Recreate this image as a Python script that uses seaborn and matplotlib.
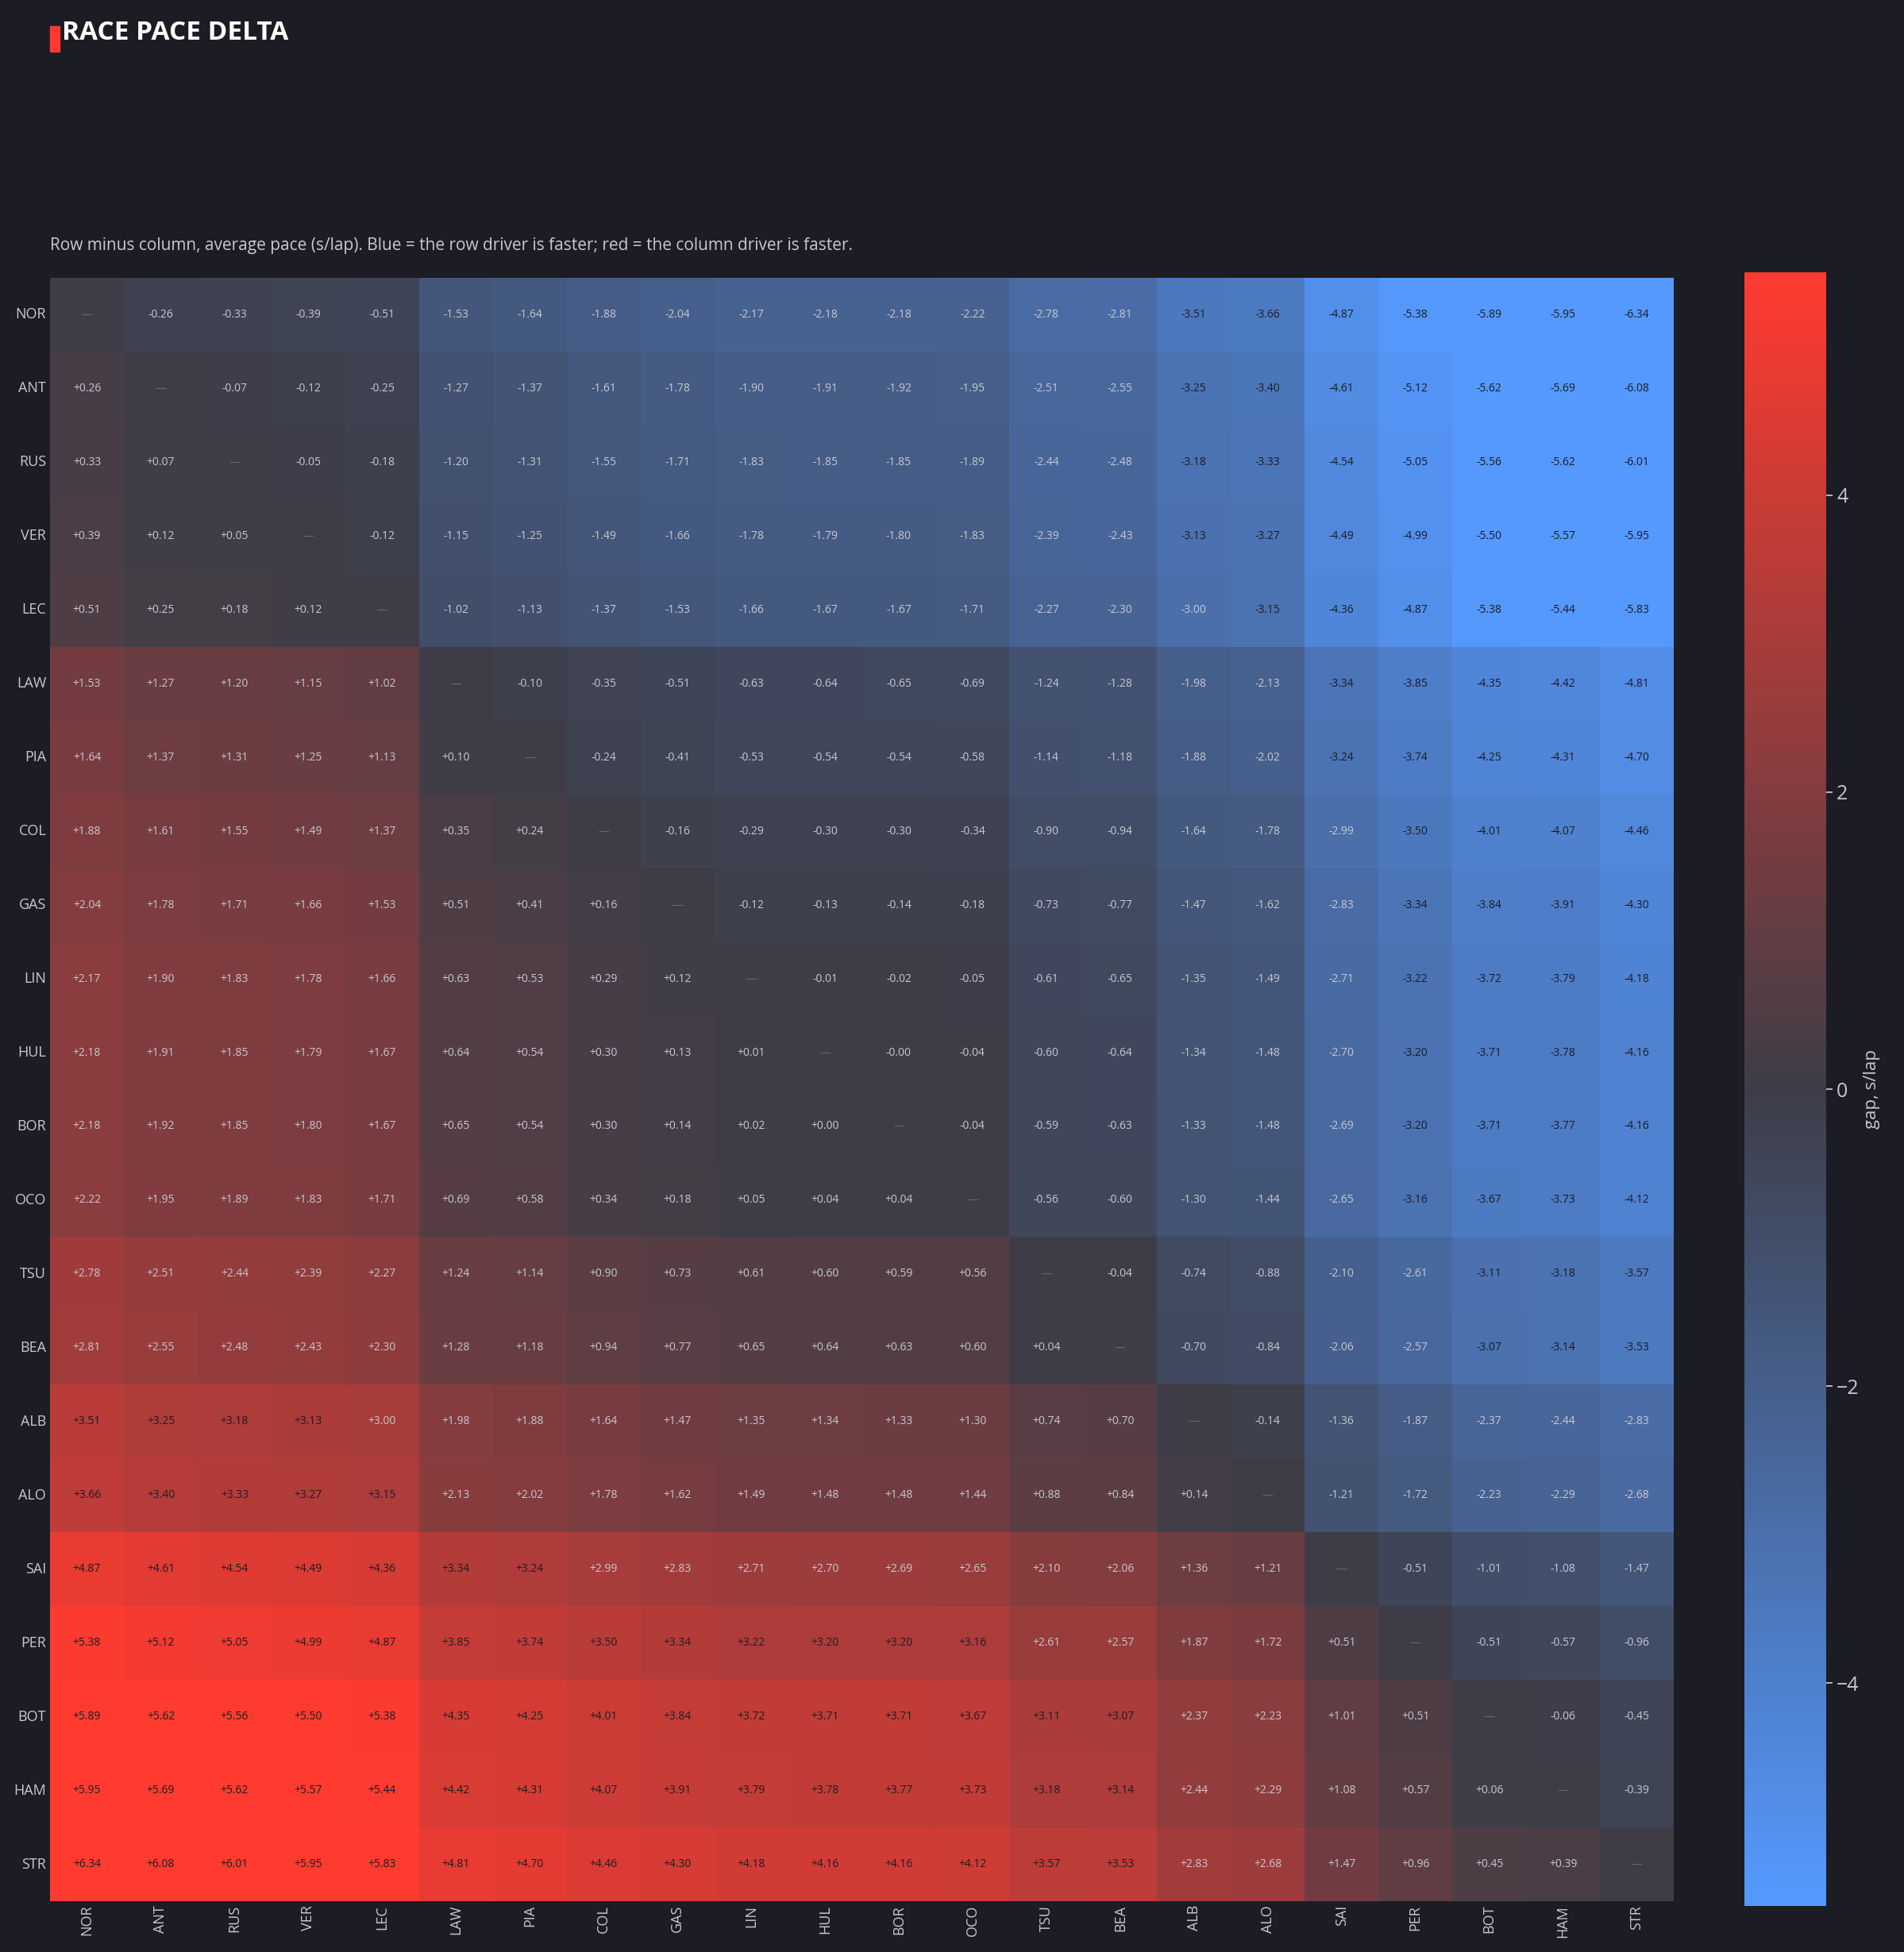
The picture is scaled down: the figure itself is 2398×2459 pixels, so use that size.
import numpy as np
import pandas as pd
import matplotlib
matplotlib.use("Agg")
import matplotlib.pyplot as plt
import seaborn as sns
from matplotlib.colors import LinearSegmentedColormap

drivers = ["NOR", "ANT", "RUS", "VER", "LEC", "LAW", "PIA", "COL", "GAS", "LIN", "HUL",
           "BOR", "OCO", "TSU", "BEA", "ALB", "ALO", "SAI", "PER", "BOT", "HAM", "STR"]

# upper triangle (row minus column), read row by row
upper = [
    [-0.26, -0.33, -0.39, -0.51, -1.53, -1.64, -1.88, -2.04, -2.17, -2.18, -2.18, -2.22, -2.78, -2.81, -3.51, -3.66, -4.87, -5.38, -5.89, -5.95, -6.34],
    [-0.07, -0.12, -0.25, -1.27, -1.37, -1.61, -1.78, -1.90, -1.91, -1.92, -1.95, -2.51, -2.55, -3.25, -3.40, -4.61, -5.12, -5.62, -5.69, -6.08],
    [-0.05, -0.18, -1.20, -1.31, -1.55, -1.71, -1.83, -1.85, -1.85, -1.89, -2.44, -2.48, -3.18, -3.33, -4.54, -5.05, -5.56, -5.62, -6.01],
    [-0.12, -1.15, -1.25, -1.49, -1.66, -1.78, -1.79, -1.80, -1.83, -2.39, -2.43, -3.13, -3.27, -4.49, -4.99, -5.50, -5.57, -5.95],
    [-1.02, -1.13, -1.37, -1.53, -1.66, -1.67, -1.67, -1.71, -2.27, -2.30, -3.00, -3.15, -4.36, -4.87, -5.38, -5.44, -5.83],
    [-0.10, -0.35, -0.51, -0.63, -0.64, -0.65, -0.69, -1.24, -1.28, -1.98, -2.13, -3.34, -3.85, -4.35, -4.42, -4.81],
    [-0.24, -0.41, -0.53, -0.54, -0.54, -0.58, -1.14, -1.18, -1.88, -2.02, -3.24, -3.74, -4.25, -4.31, -4.70],
    [-0.16, -0.29, -0.30, -0.30, -0.34, -0.90, -0.94, -1.64, -1.78, -2.99, -3.50, -4.01, -4.07, -4.46],
    [-0.12, -0.13, -0.14, -0.18, -0.73, -0.77, -1.47, -1.62, -2.83, -3.34, -3.84, -3.91, -4.30],
    [-0.01, -0.02, -0.05, -0.61, -0.65, -1.35, -1.49, -2.71, -3.22, -3.72, -3.79, -4.18],
    [-0.0, -0.04, -0.60, -0.64, -1.34, -1.48, -2.70, -3.20, -3.71, -3.78, -4.16],
    [-0.04, -0.59, -0.63, -1.33, -1.48, -2.69, -3.20, -3.71, -3.77, -4.16],
    [-0.56, -0.60, -1.30, -1.44, -2.65, -3.16, -3.67, -3.73, -4.12],
    [-0.04, -0.74, -0.88, -2.10, -2.61, -3.11, -3.18, -3.57],
    [-0.70, -0.84, -2.06, -2.57, -3.07, -3.14, -3.53],
    [-0.14, -1.36, -1.87, -2.37, -2.44, -2.83],
    [-1.21, -1.72, -2.23, -2.29, -2.68],
    [-0.51, -1.01, -1.08, -1.47],
    [-0.51, -0.57, -0.96],
    [-0.06, -0.45],
    [-0.39],
]

n = len(drivers)
mat = np.zeros((n, n))
for i, row in enumerate(upper):
    for k, v in enumerate(row):
        j = i + 1 + k
        mat[i, j] = v
        mat[j, i] = -v
df = pd.DataFrame(mat, index=drivers, columns=drivers)

labels = df.map(lambda v: f"{v:+.2f}")
for i in range(n):
    labels.iloc[i, i] = "—"

BG = "#1c1c24"
sns.set_theme(style="dark")
plt.rcParams["font.family"] = ["Open Sans", "DejaVu Sans"]

cmap = LinearSegmentedColormap.from_list("pace", ["#5599ff", "#3d3d47", "#ff3b30"])

fig = plt.figure(figsize=(23.98, 24.59), dpi=100, facecolor=BG)
ax = fig.add_axes([63 / 2398, 1 - 2395 / 2459, (2108 - 63) / 2398, (2395 - 350) / 2459])
cax = fig.add_axes([2197 / 2398, 1 - 2401 / 2459, 103 / 2398, (2401 - 343) / 2459])

sns.heatmap(df, ax=ax, cbar_ax=cax, cmap=cmap, vmin=-5.5, vmax=5.5, annot=False,
            square=False, linewidths=0)
for i in range(n):
    for j in range(n):
        v = mat[i, j]
        col = "#1c1c24" if abs(v) > 3.0 else "#c8c8d0"
        if i == j:
            col = "#6a6a74"
        ax.text(j + 0.5, i + 0.5, labels.iloc[i, j], ha="center", va="center",
                fontsize=10, color=col)

ax.set_facecolor(BG)
ax.set_xlabel("")
ax.set_ylabel("")
ax.tick_params(colors="#c8c8d0", labelsize=13, length=0)
ax.set_xticklabels(drivers, rotation=90)
ax.set_yticklabels(drivers, rotation=0)

cax.tick_params(colors="#c8c8d0", labelsize=18, length=6)
cax.set_ylabel("gap, s/lap", color="#c8c8d0", fontsize=16)
cax.yaxis.set_label_position("right")

fig.patches.append(plt.Rectangle((63 / 2398, 1 - 65 / 2459), 12 / 2398, 32 / 2459,
                                 transform=fig.transFigure, color="#ff3b30"))
fig.text(78 / 2398, 1 - 42 / 2459, "RACE PACE DELTA", color="white", fontsize=24,
         fontweight="bold", va="center")
fig.text(63 / 2398, 1 - 310 / 2459,
         "Row minus column, average pace (s/lap). Blue = the row driver is faster; red = the column driver is faster.",
         color="#c8c8d0", fontsize=15, va="center")

fig.savefig("out.png", dpi=100, facecolor=BG)
